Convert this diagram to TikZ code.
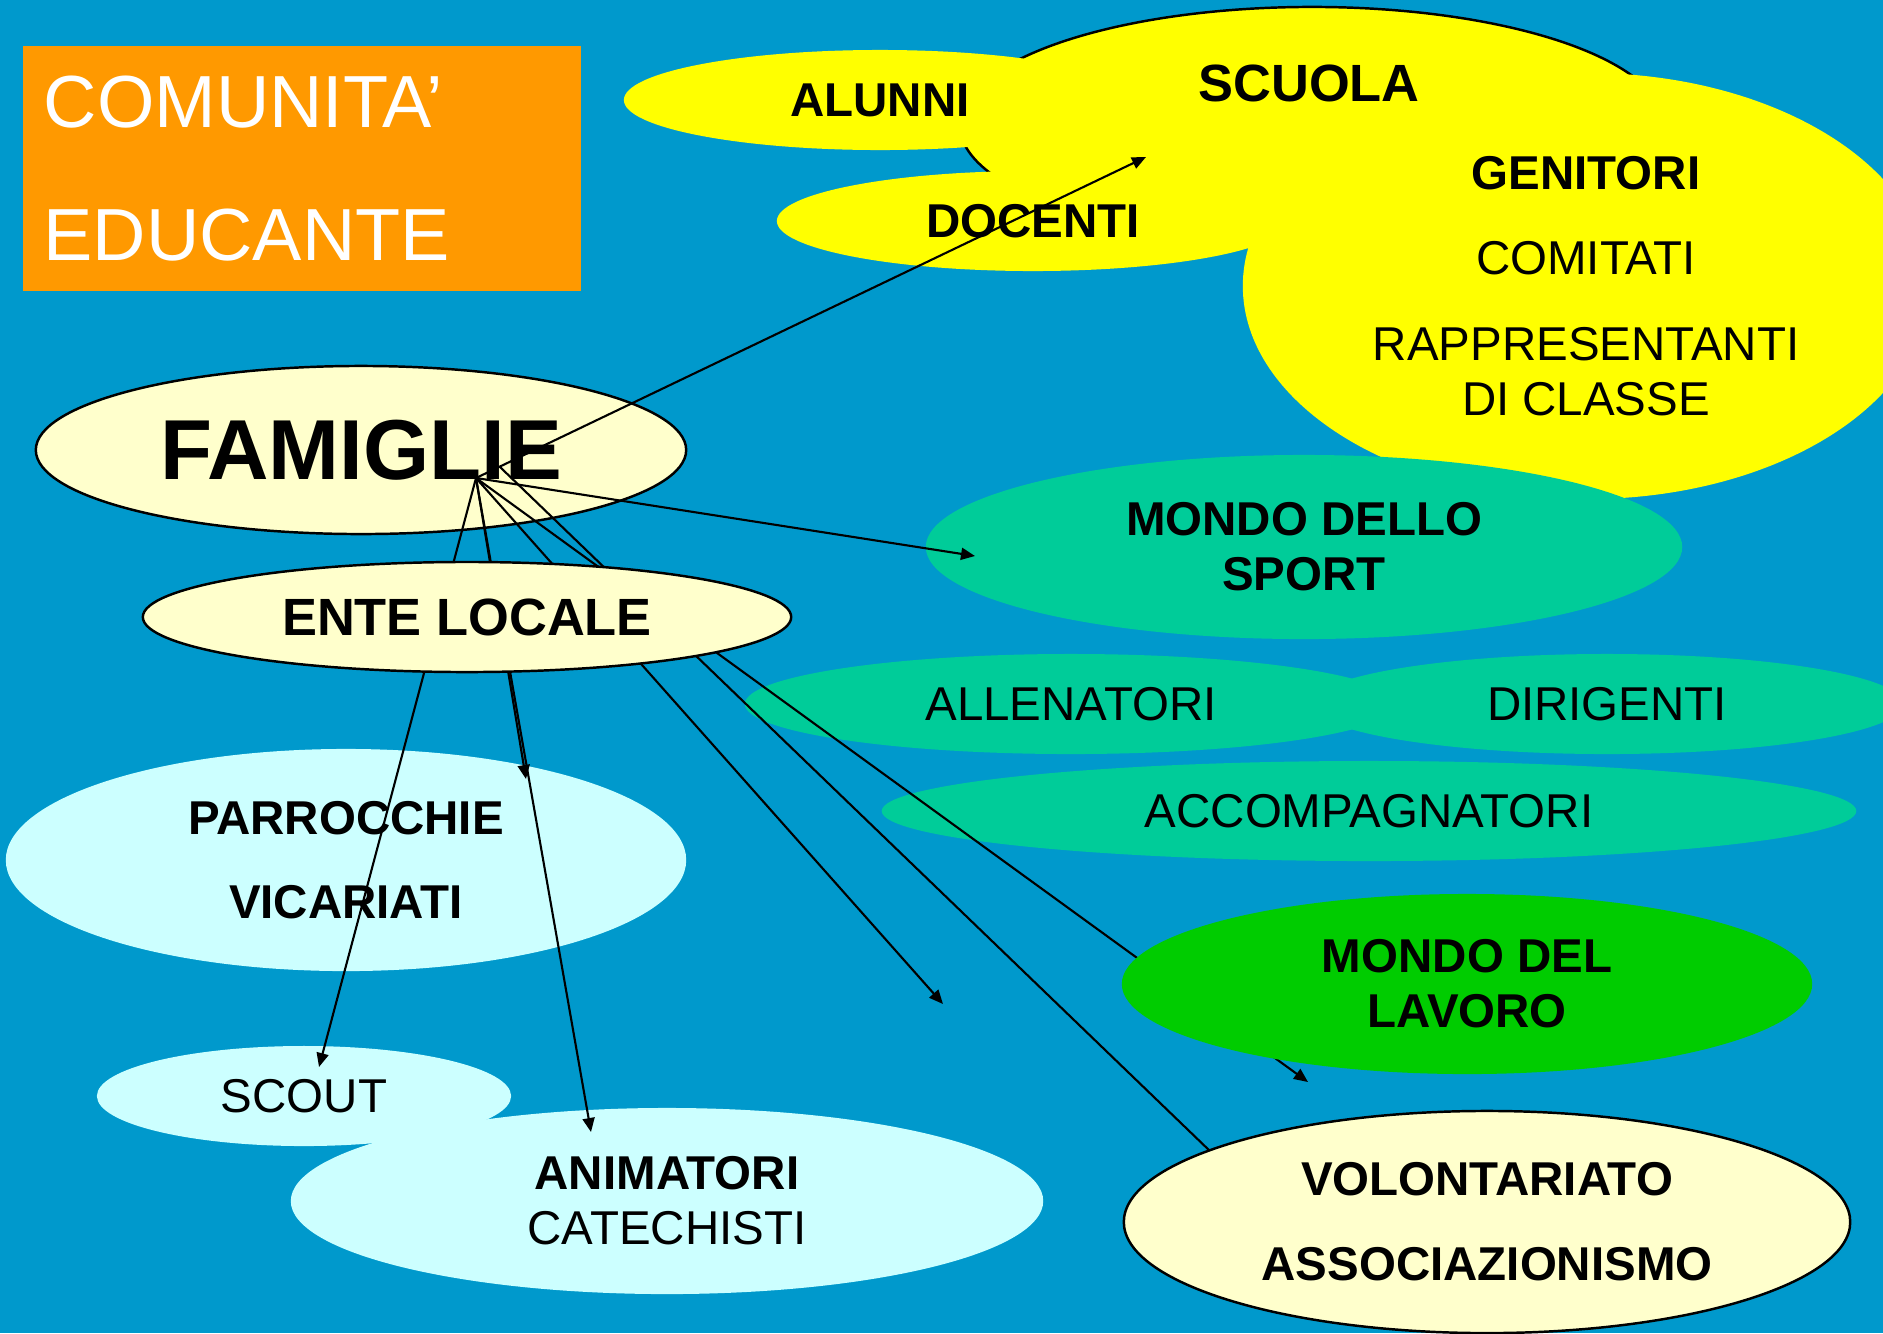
\documentclass[tikz,border=0pt]{standalone}
\usepackage{fontspec}
\setmainfont{Liberation Sans}
\usepackage{xcolor}
\definecolor{cBg}{HTML}{0099CC}
\definecolor{cOrange}{HTML}{FF9900}
\definecolor{cYellow}{HTML}{FFFF00}
\definecolor{cCream}{HTML}{FFFFCC}
\definecolor{cTeal}{HTML}{00CC99}
\definecolor{cGreen}{HTML}{00CC00}
\definecolor{cCyan}{HTML}{CCFFFF}
\usepackage{tikz}
\usetikzlibrary{positioning,arrows.meta,shapes.geometric}
\newcommand{\blobfont}{\fontsize{13.5}{15.6}\selectfont}
\newcommand{\blobbigfont}{\fontsize{14.9}{17}\selectfont\bfseries}
\newcommand{\famfont}{\fontsize{24.2}{28}\selectfont\bfseries}
\newcommand{\titlefont}{\fontsize{21}{37.8}\selectfont}
\tikzset{
  node-blob/.style={ellipse,inner sep=0pt,align=center,font=\blobfont},
  node-edge/.style={draw=black,line width=0.7pt},
  % colori delle aree: giallo scuola, verde sport/lavoro, azzurro parrocchie
  node-yellow/.style={fill=cYellow},
  node-cream/.style={fill=cCream,node-edge},
  node-teal/.style={fill=cTeal},
  node-green/.style={fill=cGreen},
  node-cyan/.style={fill=cCyan},
  node-title/.style={fill=cOrange,text=white,inner xsep=0.21cm,inner ysep=0pt,
    text width=5.16cm,minimum height=2.45cm,align=left,font=\titlefont},
  arrow/.style={-{Triangle[length=1.4mm,width=1.2mm]},line width=0.6pt,draw=black},
}

\begin{document}
\begin{tikzpicture}[x=0.01cm,y=-0.01cm]
  \useasboundingbox (0,0) rectangle (1883,1333);
  \clip (0,0) rectangle (1883,1333);
  \fill[cBg] (0,0) rectangle (1883,1333);

  \node[node-title,anchor=north west] (titolo) at (22,45) {COMUNITA’\\EDUCANTE};

  \node[node-blob,node-yellow,node-edge,minimum width=7.04cm,minimum height=2.36cm] (scuola) at (1312,125) {};
  \node[node-blob,node-yellow,minimum width=6.86cm,minimum height=4.26cm] (genitori) at (1586,286)
    {\textbf{GENITORI}\\[0.3cm]COMITATI\\[0.31cm]RAPPRESENTANTI\\DI CLASSE};
  \node[node-blob,node-yellow,minimum width=5.12cm,minimum height=1cm] (alunni) at (880,100) {\textbf{ALUNNI}};
  \node[node-blob,node-yellow,minimum width=5.12cm,minimum height=1cm] (docenti) at (1033,221) {\textbf{DOCENTI}};
  \node[anchor=base,font=\blobbigfont] (scuola-txt) at (1309,101) {SCUOLA};

  \node[node-blob,node-cream,minimum width=6.5cm,minimum height=1.68cm,font=\famfont] (famiglie) at (361,450) {FAMIGLIE};

  \node[node-blob,node-teal,minimum width=7.56cm,minimum height=1.84cm] (sport) at (1304,547) {\textbf{MONDO DELLO}\\\textbf{SPORT}};
  \node[node-blob,node-teal,minimum width=6.52cm,minimum height=1cm] (allenatori) at (1071,704) {ALLENATORI};
  \node[node-blob,node-teal,minimum width=5.92cm,minimum height=1cm] (dirigenti) at (1607,704) {DIRIGENTI};
  \node[node-blob,node-teal,minimum width=9.74cm,minimum height=1cm] (accomp) at (1369,811) {ACCOMPAGNATORI};

  \node[node-blob,node-cyan,minimum width=6.8cm,minimum height=2.22cm] (parrocchie) at (346,860) {\textbf{PARROCCHIE}\\[0.29cm]\textbf{VICARIATI}};
  \node[node-blob,node-cyan,minimum width=4.14cm,minimum height=1cm] (scout) at (304,1096) {SCOUT};
  \node[node-blob,node-cyan,minimum width=7.52cm,minimum height=1.86cm] (animatori) at (667,1201) {\textbf{ANIMATORI}\\CATECHISTI};

  \coordinate (hub) at (476,478);
  \coordinate (hub-volont) at (500,467);
  \coordinate (tip-scuola) at (1146,157);
  \coordinate (tip-sport) at (975,556);
  \coordinate (tip-parrocchie) at (526,779);
  \coordinate (tip-scout) at (319,1067);
  \coordinate (tip-animatori) at (591,1132);
  \coordinate (tip-vuoto) at (943,1004);
  \coordinate (tip-lavoro) at (1308,1082);
  \coordinate (tip-volont) at (1239,1179);
  \draw[arrow] (hub) -- (tip-scuola);
  \draw[arrow] (hub) -- (tip-sport);
  \draw[arrow] (hub) -- (tip-parrocchie);
  \draw[arrow] (hub) -- (tip-scout);
  \draw[arrow] (hub) -- (tip-animatori);
  \draw[arrow] (hub) -- (tip-vuoto);
  \draw[arrow] (hub) -- (tip-lavoro);
  \draw[arrow] (hub-volont) -- (tip-volont);

  \node[node-blob,node-cream,minimum width=6.48cm,minimum height=1.1cm,font=\blobbigfont] (ente) at (467,617) {ENTE LOCALE};
  \node[node-blob,node-green,minimum width=6.9cm,minimum height=1.8cm] (lavoro) at (1467,984) {\textbf{MONDO DEL}\\\textbf{LAVORO}};
  \node[node-blob,node-cream,minimum width=7.26cm,minimum height=2.22cm] (volont) at (1487,1222) {\textbf{VOLONTARIATO}\\[0.3cm]\textbf{ASSOCIAZIONISMO}};
\end{tikzpicture}
\end{document}
